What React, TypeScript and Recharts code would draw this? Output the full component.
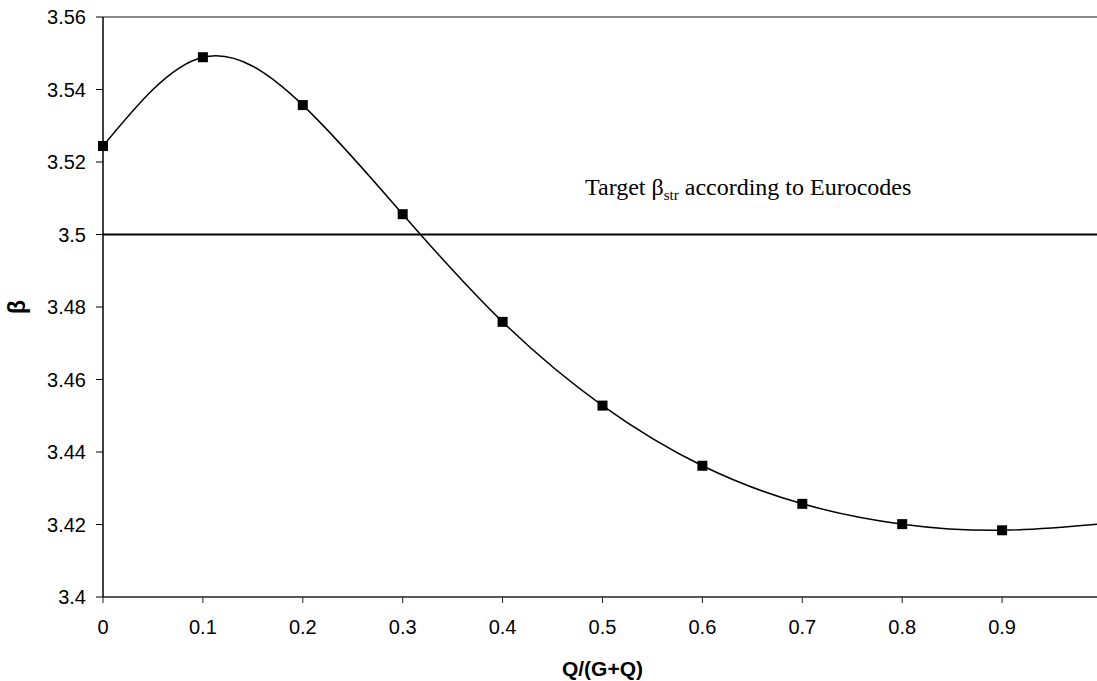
import { LineChart, Line, XAxis, YAxis, ReferenceLine } from "recharts";

// Q/(G+Q) ratio and the reliability index
const ratios = [0, 0.1, 0.2, 0.3, 0.4, 0.5, 0.6, 0.7, 0.8, 0.9, 1.0];
const betaValues = [3.5244, 3.5489, 3.5357, 3.5056, 3.4759, 3.4528, 3.4362, 3.4257, 3.4201, 3.4184, 3.4202];
const targetBeta = 3.5;
const xTicks = [0, 0.1, 0.2, 0.3, 0.4, 0.5, 0.6, 0.7, 0.8, 0.9];
const yTicks = [3.4, 3.42, 3.44, 3.46, 3.48, 3.5, 3.52, 3.54, 3.56];

const data = ratios.map((x, i) => ({ x, beta: betaValues[i] }));

const sans = "'Liberation Sans', Arial, sans-serif";
const serif = "'Liberation Serif', 'Times New Roman', serif";
const tickStyle = { fontSize: 20, fill: "#000", fontFamily: sans };

function Square(props: any) {
  const { cx, cy, index } = props;
  if (cx == null || cy == null) return <g key={index} />;
  return <rect key={index} x={cx - 5} y={cy - 5} width={10} height={10} fill="#000" />;
}

function TargetLabel({ viewBox }: any) {
  if (!viewBox) return null;
  return (
    <text x={viewBox.x + 482} y={viewBox.y - 40} fontFamily={serif} fontSize={24} fill="#000">
      <tspan>Target β</tspan>
      <tspan fontSize={15} dy={5}>str</tspan>
      <tspan dy={-5}> according to Eurocodes</tspan>
    </text>
  );
}

function XLabel({ viewBox }: any) {
  if (!viewBox) return null;
  return (
    <text x={viewBox.x + viewBox.width / 2} y={676} textAnchor="middle" fontFamily={sans} fontWeight="bold" fontSize={21} fill="#000">
      Q/(G+Q)
    </text>
  );
}

function YLabel({ viewBox }: any) {
  if (!viewBox) return null;
  const cx = 17;
  const cy = viewBox.y + viewBox.height / 2;
  return (
    <text x={cx} y={cy} transform={`rotate(-90 ${cx} ${cy})`} textAnchor="middle" dominantBaseline="central" fontFamily={sans} fontWeight="bold" fontSize={23} fill="#000">
      β
    </text>
  );
}

export default function App() {
  // the plot runs out to x = 1, a few pixels past the right edge of the frame
  return (
    <div style={{ position: "absolute", left: 0, top: 0, width: 1097, height: 681, overflow: "hidden", background: "#fff" }}>
      <LineChart width={1102} height={681} data={data} margin={{ top: 17, right: 0, bottom: 0, left: 0 }}>
        <XAxis
          dataKey="x"
          type="number"
          domain={[0, 1]}
          ticks={xTicks}
          interval={0}
          height={84}
          tick={tickStyle}
          tickSize={6}
          tickMargin={17}
          axisLine={{ stroke: "#222", strokeWidth: 1.5 }}
          tickLine={{ stroke: "#222" }}
          label={<XLabel />}
        />
        <YAxis
          type="number"
          domain={[3.4, 3.56]}
          ticks={yTicks}
          interval={0}
          width={103}
          tick={tickStyle}
          tickSize={7}
          tickMargin={10}
          axisLine={{ stroke: "#000", strokeWidth: 1.5 }}
          tickLine={{ stroke: "#000" }}
          label={<YLabel />}
        />
        <ReferenceLine y={3.56} stroke="#888" strokeWidth={2} />
        <ReferenceLine y={targetBeta} stroke="#000" strokeWidth={2} label={<TargetLabel />} />
        <Line
          dataKey="beta"
          type="natural"
          stroke="#000"
          strokeWidth={1.5}
          dot={(p: any) => <Square key={p.index} {...p} />}
          activeDot={false}
          isAnimationActive={false}
        />
      </LineChart>
    </div>
  );
}
